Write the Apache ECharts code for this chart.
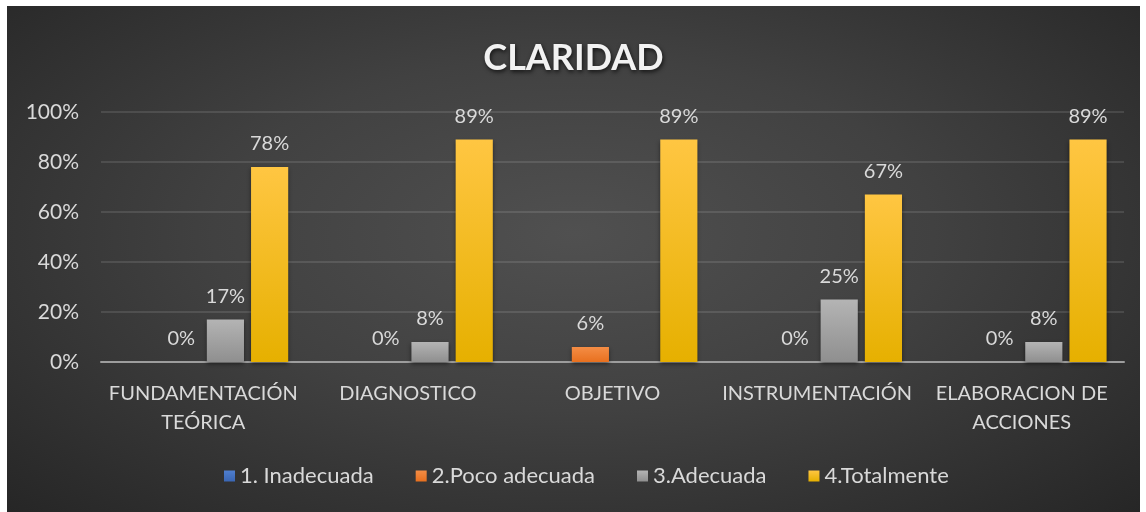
<!DOCTYPE html>
<html>
<head>
<meta charset="utf-8">
<script src="https://cdn.jsdelivr.net/npm/echarts@6/dist/echarts.min.js"></script>
<style>
  html, body { margin: 0; padding: 0; background: #fff; }
  #chart {
    position: absolute;
    left: 7px;
    top: 6px;
    width: 1133px;
    height: 506px;
    background: radial-gradient(ellipse at 50% 45%, #505050 0%, #414141 45%, #262626 100%);
  }
</style>
</head>
<body>
<div id="chart"></div>
<script>
const categories = [
  "FUNDAMENTACIÓN\nTEÓRICA",
  "DIAGNOSTICO",
  "OBJETIVO",
  "INSTRUMENTACIÓN",
  "ELABORACION DE\nACCIONES",
];
const seriesNames = ["1. Inadecuada", "2.Poco adecuada", "3.Adecuada", "4.Totalmente"];
const inadecuada = [null, null, null, null, null];
const pocoAdecuada = [0, 0, 6, 0, 0];
const adecuada = [17, 8, null, 25, 8];
const totalmente = [78, 89, 89, 67, 89];
const yTicks = [0, 20, 40, 60, 80, 100];

const textColor = "#d9d9d9";
const font = "Lato, 'Open Sans', sans-serif";

function grad(top, bottom) {
  return new echarts.graphic.LinearGradient(0, 0, 0, 1, [
    { offset: 0, color: top },
    { offset: 1, color: bottom },
  ]);
}

function barSeries(name, data, top, bottom) {
  return {
    name: name,
    type: "bar",
    data: data,
    barGap: "19%",
    barCategoryGap: "17%",
    itemStyle: {
      color: grad(top, bottom),
      shadowColor: "rgba(0,0,0,0.45)",
      shadowBlur: 4,
      shadowOffsetY: 2,
    },
    label: {
      show: true,
      position: "top",
      distance: 13,
      color: textColor,
      fontFamily: font,
      fontSize: 20,
      formatter: "{c}%",
    },
  };
}

const chart = echarts.init(document.getElementById("chart"), null, { renderer: "canvas" });
chart.setOption({
  backgroundColor: "transparent",
  animation: false,
  title: {
    text: "CLARIDAD",
    left: "center",
    top: 29,
    textStyle: {
      color: "#f2f2f2",
      fontFamily: font,
      fontWeight: "bold",
      fontSize: 36,
      textShadowColor: "rgba(0,0,0,0.7)",
      textShadowBlur: 4,
      textShadowOffsetX: 1,
      textShadowOffsetY: 2,
    },
  },
  legend: {
    data: seriesNames,
    bottom: 20,
    left: 212,
    icon: "rect",
    itemWidth: 11,
    itemHeight: 11,
    itemGap: 42,
    textStyle: { color: textColor, fontFamily: font, fontSize: 22, padding: [0, 0, 0, 0] },
  },
  grid: { left: 94, right: 16, top: 106, bottom: 150 },
  xAxis: {
    type: "category",
    data: categories,
    axisLine: { lineStyle: { color: "#9d9d9d", width: 2 } },
    axisTick: { show: false },
    axisLabel: {
      color: textColor,
      fontFamily: font,
      fontSize: 20,
      lineHeight: 29,
      margin: 17,
      interval: 0,
    },
  },
  yAxis: {
    type: "value",
    min: yTicks[0],
    max: yTicks[yTicks.length - 1],
    interval: 20,
    axisLine: { show: false },
    axisTick: { show: false },
    axisLabel: {
      color: textColor,
      fontFamily: font,
      fontSize: 21,
      margin: 22,
      formatter: "{value}%",
    },
    splitLine: { lineStyle: { color: "rgba(255,255,255,0.11)", width: 2 } },
  },
  series: [
    barSeries(seriesNames[0], inadecuada, "#4f7fd0", "#3a66b4"),
    barSeries(seriesNames[1], pocoAdecuada, "#f48d45", "#e8701f"),
    barSeries(seriesNames[2], adecuada, "#b4b4b4", "#8f8f8f"),
    barSeries(seriesNames[3], totalmente, "#ffc642", "#e6b000"),
  ],
});
</script>
</body>
</html>
